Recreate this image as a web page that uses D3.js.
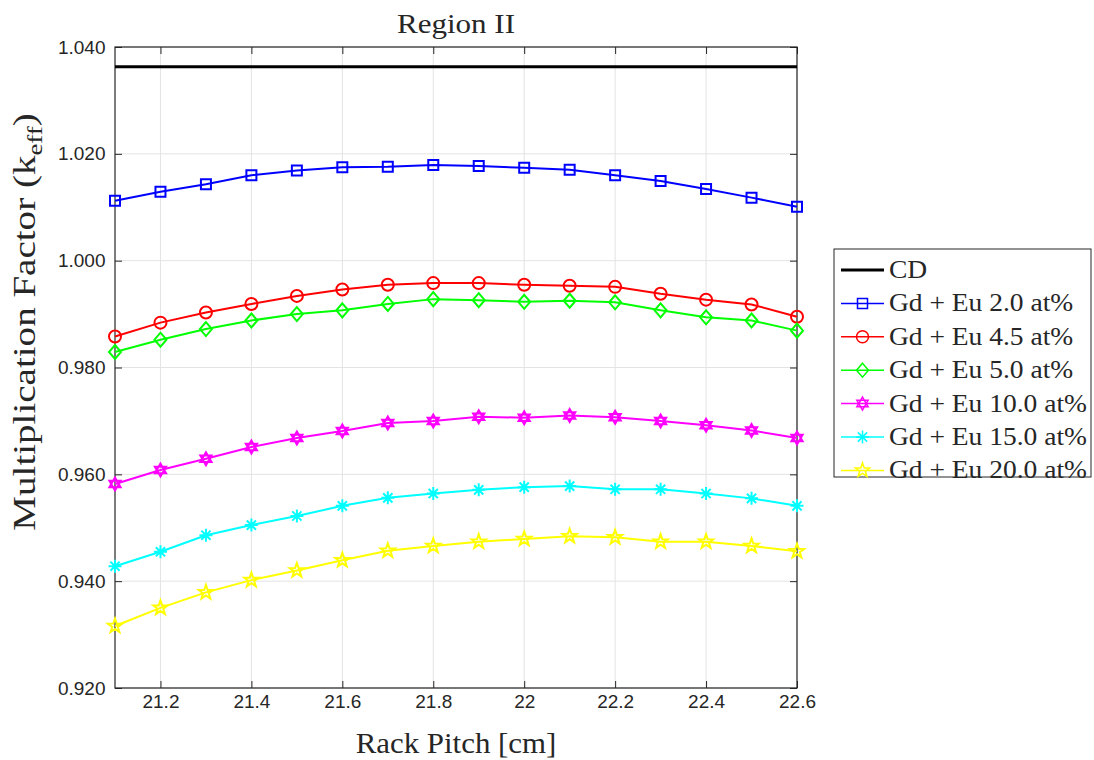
<!DOCTYPE html>
<html lang="en">
<head>
<meta charset="UTF-8">
<title>Region II</title>
<script src="https://d3js.org/d3.v7.min.js"></script>
<style>
    body { margin: 0; background: #fff; }
    svg { display: block; }
    .tick text { font-family: "Liberation Sans", Arial, sans-serif; font-size: 19px; fill: #262626; }
    .serif { font-family: "Liberation Serif", "Times New Roman", serif; fill: #262626; }
</style>
</head>
<body>
<svg id="chart" width="1094" height="760"></svg>
<script>
// データ
const pitch = [21.1, 21.2, 21.3, 21.4, 21.5, 21.6, 21.7, 21.8, 21.9, 22.0, 22.1, 22.2, 22.3, 22.4, 22.5, 22.6];
const cd = 1.0363;
const eu20 = [1.0112, 1.0129, 1.0143, 1.0160, 1.0169, 1.0175, 1.0176, 1.0179, 1.0177, 1.0174, 1.0170, 1.0160, 1.0149, 1.0134, 1.0118, 1.0101];
const eu45 = [0.9858, 0.9884, 0.9903, 0.9919, 0.9934, 0.9946, 0.9955, 0.9958, 0.9958, 0.9955, 0.9953, 0.9951, 0.9938, 0.9927, 0.9918, 0.9895];
const eu50 = [0.9829, 0.9852, 0.9872, 0.9888, 0.9900, 0.9907, 0.9919, 0.9928, 0.9926, 0.9923, 0.9925, 0.9922, 0.9907, 0.9894, 0.9888, 0.9869];
const eu100 = [0.9582, 0.9608, 0.9629, 0.9651, 0.9668, 0.9681, 0.9696, 0.9700, 0.9708, 0.9706, 0.9710, 0.9707, 0.9700, 0.9692, 0.9682, 0.9668];
const eu150 = [0.9428, 0.9455, 0.9486, 0.9505, 0.9522, 0.9541, 0.9556, 0.9564, 0.9571, 0.9576, 0.9578, 0.9572, 0.9572, 0.9564, 0.9555, 0.9541];
const eu200 = [0.9316, 0.9350, 0.9379, 0.9402, 0.9420, 0.9439, 0.9457, 0.9466, 0.9474, 0.9479, 0.9484, 0.9482, 0.9474, 0.9474, 0.9466, 0.9456];
const xTicks = [21.2, 21.4, 21.6, 21.8, 22.0, 22.2, 22.4, 22.6];
const yTicks = [0.920, 0.940, 0.960, 0.980, 1.000, 1.020, 1.040];

// 系列
const series = [
    { name: "Gd + Eu 2.0 at%", values: eu20, color: "#0000ff", marker: "square" },
    { name: "Gd + Eu 4.5 at%", values: eu45, color: "#ff0000", marker: "circle" },
    { name: "Gd + Eu 5.0 at%", values: eu50, color: "#00ff00", marker: "diamond" },
    { name: "Gd + Eu 10.0 at%", values: eu100, color: "#ff00ff", marker: "hexagram" },
    { name: "Gd + Eu 15.0 at%", values: eu150, color: "#00ffff", marker: "asterisk" },
    { name: "Gd + Eu 20.0 at%", values: eu200, color: "#ffff00", marker: "pentagram" }
];

const pLeft = 115, pRight = 797, pTop = 47, pBottom = 688;
const svg = d3.select("#chart");
const x = d3.scaleLinear().domain([21.1, 22.6]).range([pLeft, pRight]);
const y = d3.scaleLinear().domain([0.920, 1.040]).range([pBottom, pTop]);

// グリッド
const grid = svg.append("g").attr("stroke", "#e3e3e3").attr("stroke-width", 1);
xTicks.forEach(t => grid.append("line").attr("x1", x(t)).attr("x2", x(t)).attr("y1", pTop).attr("y2", pBottom));
yTicks.forEach(t => grid.append("line").attr("x1", pLeft).attr("x2", pRight).attr("y1", y(t)).attr("y2", y(t)));

// 軸
const fmtX = d => String(+d.toFixed(1));
svg.append("g").attr("transform", `translate(0,${pBottom})`)
    .call(d3.axisBottom(x).tickValues(xTicks).tickSize(-7).tickPadding(7).tickFormat(fmtX))
    .call(g => g.select(".domain").remove());
svg.append("g").attr("transform", `translate(${pLeft},0)`)
    .call(d3.axisLeft(y).tickValues(yTicks).tickSize(-7).tickPadding(9.5).tickFormat(d3.format(".3f")))
    .call(g => g.select(".domain").remove());
svg.append("g").attr("transform", `translate(0,${pTop})`)
    .call(d3.axisTop(x).tickValues(xTicks).tickSize(-7).tickFormat(""))
    .call(g => g.select(".domain").remove());
svg.append("g").attr("transform", `translate(${pRight},0)`)
    .call(d3.axisRight(y).tickValues(yTicks).tickSize(-7).tickFormat(""))
    .call(g => g.select(".domain").remove());
svg.selectAll(".tick line").attr("stroke", "#262626");
svg.append("rect").attr("x", pLeft).attr("y", pTop).attr("width", pRight - pLeft).attr("height", pBottom - pTop)
    .attr("fill", "none").attr("stroke", "#262626").attr("stroke-width", 1.2);

// マーカー
function polar(r, a) {
    return (r * Math.cos(a)).toFixed(2) + "," + (r * Math.sin(a)).toFixed(2);
}
function markerPath(type) {
    if (type === "square") return "M-5,-5H5V5H-5Z";
    if (type === "circle") return "M6,0A6,6 0 1,1 -6,0A6,6 0 1,1 6,0Z";
    if (type === "diamond") return "M0,-7L6,0L0,7L-6,0Z";
    if (type === "hexagram") {
        const r = 6.5;
        let s = "";
        [-Math.PI / 2, Math.PI / 2].forEach(a0 => {
            for (let i = 0; i < 3; i++) s += (i ? "L" : "M") + polar(r, a0 + i * 2 * Math.PI / 3);
            s += "Z";
        });
        return s;
    }
    if (type === "asterisk") {
        const r = 6.5;
        let s = "";
        for (let i = 0; i < 4; i++) {
            const a = i * Math.PI / 4;
            s += "M" + polar(r, a) + "L" + polar(r, a + Math.PI);
        }
        return s;
    }
    if (type === "pentagram") {
        let s = "";
        for (let i = 0; i < 10; i++) {
            s += (i ? "L" : "M") + polar(i % 2 ? 3.0 : 7.5, -Math.PI / 2 + i * Math.PI / 5);
        }
        return s + "Z";
    }
}

// CD
svg.append("line").attr("x1", pLeft).attr("x2", pRight).attr("y1", y(cd)).attr("y2", y(cd))
    .attr("stroke", "#000").attr("stroke-width", 3);

// 曲線
const line = d3.line().x((d, i) => x(pitch[i])).y(d => y(d));
series.forEach(s => {
    const g = svg.append("g");
    g.append("path").attr("d", line(s.values)).attr("fill", "none")
        .attr("stroke", s.color).attr("stroke-width", 2);
    g.selectAll("path.m").data(s.values).join("path").attr("class", "m")
        .attr("transform", (d, i) => `translate(${x(pitch[i])},${y(d)})`)
        .attr("d", markerPath(s.marker)).attr("fill", "none")
        .attr("stroke", s.color).attr("stroke-width", 2);
});

// タイトル・軸ラベル
svg.append("text").attr("class", "serif").attr("text-anchor", "middle").attr("font-size", 27)
    .attr("transform", `translate(${(pLeft + pRight) / 2},33) scale(1.15,1)`).text("Region II");
svg.append("text").attr("class", "serif").attr("text-anchor", "middle").attr("font-size", 30)
    .attr("transform", `translate(${(pLeft + pRight) / 2},753) scale(1.03,1)`).text("Rack Pitch [cm]");
const yl = svg.append("text").attr("class", "serif").attr("font-size", 32)
    .attr("transform", `translate(35,322) rotate(-90) scale(1.22,1)`).attr("text-anchor", "middle");
yl.append("tspan").text("Multiplication Factor (k");
yl.append("tspan").attr("font-size", 22).attr("dy", 7).text("eff");
yl.append("tspan").attr("dy", -7).text(")");

// 凡例
const lg = svg.append("g");
lg.append("rect").attr("x", 834).attr("y", 249).attr("width", 257).attr("height", 228)
    .attr("fill", "#fff").attr("stroke", "#262626").attr("stroke-width", 1);
const items = [{ name: "CD", color: "#000", marker: null }].concat(series);
items.forEach((s, i) => {
    const cy = 270 + i * 33.4;
    lg.append("line").attr("x1", 841).attr("x2", 884).attr("y1", cy).attr("y2", cy)
        .attr("stroke", s.color).attr("stroke-width", s.marker ? 1.5 : 3);
    if (s.marker) {
        lg.append("path").attr("transform", `translate(862.5,${cy})`).attr("d", markerPath(s.marker))
            .attr("fill", "none").attr("stroke", s.color).attr("stroke-width", 1.5);
    }
    lg.append("text").attr("class", "serif").attr("font-size", 25)
        .attr("transform", `translate(889,${cy + 8}) scale(1.1,1)`).text(s.name);
});
</script>
</body>
</html>
